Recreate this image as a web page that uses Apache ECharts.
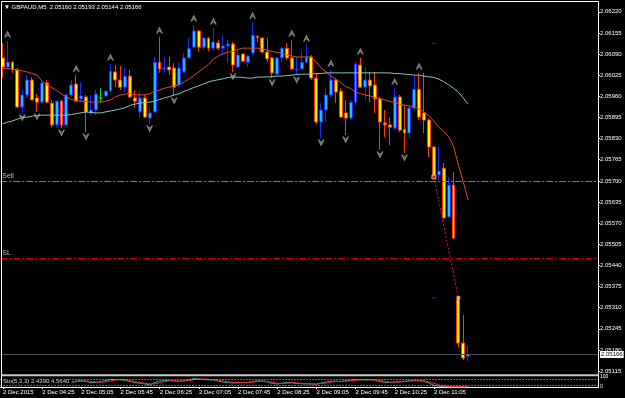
<!DOCTYPE html>
<html><head><meta charset="utf-8">
<script src="https://cdn.jsdelivr.net/npm/echarts@6/dist/echarts.min.js"></script>
<style>html,body{margin:0;padding:0;background:#000;}#c{width:625px;height:398px;}</style>
</head><body><div id="c"></div>
<script>
const symbolName = 'GBPAUD,M5';
const tickLabels = ['2 Dec 2015','2 Dec 04:25','2 Dec 05:05','2 Dec 05:45','2 Dec 06:25','2 Dec 07:05',
  '2 Dec 07:45','2 Dec 08:25','2 Dec 09:05','2 Dec 09:45','2 Dec 10:25','2 Dec 11:05'];
const priceTicks = [2.05115,2.05180,2.05245,2.05310,2.05375,2.05440,2.05505,2.05570,2.05635,2.05700,
  2.05765,2.05830,2.05895,2.05960,2.06025,2.06090,2.06155,2.06220];

const openP = [2.06078,2.06050,2.06065,2.06041,2.05927,2.05964,2.06010,2.05955,2.05942,2.06001,
2.05939,2.05872,2.05945,2.05872,2.05964,2.05998,2.05952,2.05958,2.05909,2.05918,
2.05955,2.05961,2.05976,2.06035,2.06010,2.05988,2.06022,2.05955,2.05912,2.05955,
2.05893,2.05912,2.06065,2.06044,2.06050,2.06047,2.05995,2.06035,2.06078,2.06111,
2.06161,2.06111,2.06139,2.06108,2.06124,2.06108,2.06115,2.06121,2.06050,2.06090,
2.06065,2.06093,2.06145,2.06139,2.06096,2.06078,2.06028,2.06078,2.06108,2.06078,
2.06041,2.06044,2.06065,2.06081,2.06016,2.05881,2.05918,2.05964,2.06010,2.05976,
2.05909,2.05893,2.05942,2.06056,2.05988,2.06010,2.05995,2.05952,2.05878,2.05872,
2.05862,2.05958,2.05859,2.05847,2.05924,2.05982,2.05909,2.05887,2.05804,2.05718,
2.05739,2.05589,2.05687,2.05334,2.05201,2.05160];
const highP = [2.06124,2.06130,2.06068,2.06047,2.05979,2.06025,2.06019,2.05967,2.06007,2.06010,
2.05949,2.05949,2.05949,2.05970,2.06010,2.06025,2.06004,2.05964,2.05964,2.05979,
2.05985,2.05979,2.06059,2.06056,2.06053,2.06047,2.06041,2.05979,2.05973,2.05964,
2.05927,2.06081,2.06142,2.06081,2.06081,2.06062,2.06065,2.06093,2.06139,2.06179,
2.06164,2.06142,2.06142,2.06170,2.06133,2.06148,2.06133,2.06127,2.06102,2.06093,
2.06087,2.06188,2.06148,2.06142,2.06139,2.06081,2.06081,2.06111,2.06124,2.06133,
2.06081,2.06099,2.06118,2.06087,2.06032,2.05939,2.05985,2.06041,2.06016,2.05985,
2.05949,2.05949,2.06065,2.06078,2.06050,2.06035,2.06035,2.05958,2.05918,2.05896,
2.05985,2.05964,2.05933,2.05933,2.06025,2.06032,2.06032,2.05893,2.05807,2.05804,
2.05755,2.05712,2.05727,2.05343,2.05287,2.05193];
const lowP = [2.06016,2.06047,2.06032,2.05924,2.05909,2.05955,2.05949,2.05912,2.05936,2.05939,
2.05865,2.05865,2.05862,2.05869,2.05958,2.05942,2.05942,2.05850,2.05902,2.05902,
2.05942,2.05958,2.05973,2.05988,2.05979,2.05973,2.05955,2.05924,2.05893,2.05893,
2.05875,2.05909,2.06032,2.06032,2.06025,2.05961,2.05988,2.06032,2.06078,2.06108,
2.06096,2.06102,2.06099,2.06099,2.06102,2.06087,2.06062,2.06035,2.06047,2.06065,
2.06050,2.06087,2.06127,2.06093,2.06065,2.06016,2.06025,2.06065,2.06072,2.06041,
2.06025,2.06041,2.06062,2.06010,2.05875,2.05832,2.05881,2.05958,2.05939,2.05893,
2.05841,2.05887,2.05933,2.05985,2.05949,2.05942,2.05909,2.05795,2.05835,2.05810,
2.05856,2.05850,2.05786,2.05832,2.05918,2.05887,2.05847,2.05773,2.05715,2.05703,
2.05583,2.05586,2.05521,2.05189,2.05149,2.05144];
const closeP = [2.06050,2.06065,2.06041,2.05927,2.05964,2.06010,2.05949,2.05942,2.06001,2.05942,
2.05872,2.05945,2.05872,2.05964,2.05995,2.05945,2.05961,2.05912,2.05918,2.05967,
2.05955,2.05976,2.06038,2.06010,2.05988,2.06022,2.05958,2.05945,2.05955,2.05896,
2.05909,2.06065,2.06044,2.06047,2.06041,2.05988,2.06047,2.06078,2.06108,2.06161,
2.06111,2.06139,2.06108,2.06127,2.06108,2.06115,2.06121,2.06056,2.06087,2.06068,
2.06084,2.06148,2.06141,2.06096,2.06075,2.06032,2.06078,2.06108,2.06078,2.06044,
2.06044,2.06065,2.06081,2.06016,2.05881,2.05918,2.05964,2.06010,2.05973,2.05896,
2.05893,2.05942,2.06059,2.05988,2.06010,2.05992,2.05952,2.05881,2.05872,2.05865,
2.05958,2.05856,2.05847,2.05924,2.05982,2.05896,2.05887,2.05804,2.05718,2.05730,
2.05586,2.05687,2.05524,2.05201,2.05155,2.05166];

const maFast = [2.06047,2.06045,2.06044,2.06041,2.06038,2.06035,2.06030,2.06025,2.06007,2.05995,
2.05987,2.05978,2.05967,2.05958,2.05950,2.05947,2.05945,2.05944,2.05942,2.05942,
2.05942,2.05945,2.05949,2.05958,2.05964,2.05967,2.05968,2.05965,2.05964,2.05965,
2.05968,2.05976,2.05979,2.05985,2.05988,2.05992,2.05996,2.06004,2.06013,2.06024,
2.06035,2.06047,2.06058,2.06075,2.06084,2.06091,2.06096,2.06098,2.06104,2.06108,
2.06108,2.06108,2.06108,2.06105,2.06102,2.06098,2.06095,2.06091,2.06087,2.06084,
2.06081,2.06081,2.06081,2.06081,2.06065,2.06047,2.06035,2.06022,2.06013,2.06002,
2.05990,2.05984,2.05973,2.05968,2.05964,2.05961,2.05956,2.05953,2.05949,2.05944,
2.05941,2.05936,2.05933,2.05930,2.05927,2.05921,2.05912,2.05899,2.05884,2.05865,
2.05853,2.05836,2.05807,2.05749,2.05697,2.05641];
const maSlow = [2.05875,2.05881,2.05884,2.05890,2.05895,2.05896,2.05899,2.05901,2.05902,2.05902,
2.05902,2.05902,2.05902,2.05902,2.05904,2.05907,2.05909,2.05912,2.05910,2.05909,
2.05909,2.05912,2.05915,2.05918,2.05921,2.05925,2.05932,2.05936,2.05939,2.05941,
2.05942,2.05945,2.05950,2.05955,2.05959,2.05964,2.05968,2.05975,2.05981,2.05987,
2.05992,2.05998,2.06004,2.06008,2.06011,2.06014,2.06018,2.06019,2.06019,2.06018,
2.06016,2.06016,2.06019,2.06019,2.06020,2.06020,2.06022,2.06022,2.06024,2.06025,
2.06027,2.06028,2.06028,2.06028,2.06030,2.06030,2.06032,2.06032,2.06032,2.06032,
2.06032,2.06032,2.06032,2.06032,2.06032,2.06032,2.06032,2.06032,2.06032,2.06032,
2.06030,2.06030,2.06028,2.06027,2.06025,2.06025,2.06022,2.06020,2.06018,2.06013,
2.06005,2.05996,2.05985,2.05973,2.05955,2.05936];

const stochMain = [null,null,null,null,null,null,null,null,null,null,null,null,null,null,
50,60,65,55,45,45,55,65,75,75, 72,65,55,42,38,30,22,45,60,65, 65,60,58,62,72,85,80,75,72,70,
60,50,45,40,42,45,45,55,62,60, 50,35,30,38,45,42,35,32,32,30, 28,40,50,58,58,55,62,68,75,73,
70,72,68,55,48,45,50,55,58,62, 65,62,55,40,15,8,5,6,4,3, 2,2.439];
const stochSignal = [null,null,null,null,null,null,null,null,null,null,null,null,null,null,
48,52,58,60,55,50,48,52,62,70, 74,72,64,55,45,37,30,32,42,55, 63,63,60,60,64,73,79,80,76,72,
67,60,52,45,42,42,44,48,54,59, 57,48,38,34,38,42,41,36,33,31, 30,33,39,49,55,57,58,62,68,72,
73,72,70,65,57,49,48,50,54,58, 62,63,61,52,37,21,9,6,5,4, 3,4.564];

const fractalUp = [1,15,22,32,39,43,51,59,62,67,73,80,85];
const fractalDown = [4,7,12,17,30,35,47,55,60,65,70,77,82];
const sellLevel = 2.05700;
const slLevel = 2.05463;
const tradeBars = [88, 93];
const tradePrices = [2.05712, 2.05340];
const blueMark = [88, 2.05340];
const redMark = [88, 2.06123];
const emptyBars = 26;

const n = openP.length;
const total = n + emptyBars;
const cats = [];
for (let i = 0; i < total; i++) {
  const m = 3 * 60 + 45 + 5 * i;
  cats.push(String(Math.floor(m / 60)).padStart(2, '0') + ':' + String(m % 60).padStart(2, '0'));
}
const candles = openP.map((o, i) => [o, closeP[i], lowP[i], highP[i]]);
const bid = closeP[n - 1];
const FONT = 'Liberation Sans';
const upPath = 'path://M4,0L8,9H6L4,4.5L2,9H0Z M2.5,6H5.5V7H2.5Z';
const downPath = 'path://M0,0H2L4,4.5L6,0H8L4,9Z M2.5,2H5.5V3H2.5Z';
const levelLabel = {show: true, position: 'insideStartTop', color: '#b8b8b8', fontSize: 7, fontFamily: FONT, distance: [2, 1]};

function levelSeries(value, color, text, dash) {
  return {type: 'line', xAxisIndex: 0, yAxisIndex: 0, data: [], symbol: 'none', silent: true, z: 1,
    color: color,
    markLine: {silent: true, symbol: ['none', 'none'], animation: false, precision: 5,
      lineStyle: {color: color, width: 1, type: dash, opacity: 1},
      label: text,
      data: [{yAxis: value}]}};
}

const chart = echarts.init(document.getElementById('c'), null, {renderer: 'canvas'});
chart.setOption({
  backgroundColor: '#000',
  animation: false,
  grid: [
    {left: 0.25, width: 597.75, top: 2, height: 372},
    {left: 0.25, width: 597.75, top: 377, height: 10}
  ],
  xAxis: [
    {type: 'category', gridIndex: 0, data: cats, boundaryGap: true,
     axisLine: {show: false}, axisTick: {show: false}, axisLabel: {show: false}, splitLine: {show: false}},
    {type: 'category', gridIndex: 1, data: cats, boundaryGap: true,
     axisLine: {show: true, lineStyle: {color: '#ffffff', width: 1}},
     axisTick: {show: true, alignWithLabel: true, length: 2, lineStyle: {color: '#ffffff'},
       interval: (idx) => idx % 8 === 0 && idx / 8 < tickLabels.length},
     axisLabel: {show: true, color: '#ffffff', fontSize: 6, fontFamily: FONT, align: 'left', margin: 2,
       interval: (idx) => idx % 8 === 0 && idx / 8 < tickLabels.length,
       formatter: (v, idx) => tickLabels[idx / 8] || ''},
     splitLine: {show: false}}
  ],
  yAxis: [
    {type: 'value', gridIndex: 0, position: 'right', min: 2.05106, max: 2.06250,
     axisLine: {show: true, lineStyle: {color: '#ffffff'}},
     axisTick: {show: true, length: 2, lineStyle: {color: '#ffffff'}, customValues: priceTicks},
     axisLabel: {show: true, color: '#ffffff', fontSize: 6, fontFamily: FONT, margin: 2,
       customValues: priceTicks, formatter: (v) => v.toFixed(5)},
     splitLine: {show: false}},
    {type: 'value', gridIndex: 1, position: 'right', min: 0, max: 100,
     axisLine: {show: true, lineStyle: {color: '#ffffff'}},
     axisTick: {show: false},
     axisLabel: {show: true, color: '#ffffff', fontSize: 5, fontFamily: FONT, margin: 2,
       customValues: [0, 100], formatter: (v) => String(v)},
     splitLine: {show: false}}
  ],
  graphic: [
    {type: 'line', shape: {x1: 1.5, y1: 1.5, x2: 598.5, y2: 1.5}, style: {stroke: '#ffffff', lineWidth: 1}, z: 100},
    {type: 'line', shape: {x1: 1.5, y1: 1.5, x2: 1.5, y2: 388}, style: {stroke: '#ffffff', lineWidth: 1}, z: 100},
    {type: 'line', shape: {x1: 598.5, y1: 1.5, x2: 598.5, y2: 388}, style: {stroke: '#ffffff', lineWidth: 1}, z: 100},
    {type: 'rect', shape: {x: 1.5, y: 374.3, width: 597, height: 2}, style: {fill: '#c8c8c8'}, z: 100},
    {type: 'text', left: 4, top: 4, z: 100,
     style: {text: '▼ ' + symbolName + '  ' + [openP[n-1], highP[n-1], lowP[n-1], closeP[n-1]].map(v => v.toFixed(5)).join(' '),
       fill: '#ffffff', font: '6px "' + FONT + '"'}},
    {type: 'text', left: 3, top: 378, z: 100,
     style: {text: 'Sto(5,3,3) ' + stochMain[n-1].toFixed(4) + ' ' + stochSignal[n-1].toFixed(4),
       fill: '#d8d8d8', font: '6px "' + FONT + '"', backgroundColor: '#000'}}
  ],
  series: [
    levelSeries(sellLevel, '#00D000', Object.assign({formatter: 'Sell'}, levelLabel), [7, 2, 2, 2]),
    levelSeries(slLevel, '#D00000', Object.assign({formatter: 'SL'}, levelLabel), [7, 2, 2, 2]),
    levelSeries(bid, '#4a5460', {show: true, position: 'end', formatter: bid.toFixed(5), color: '#000', backgroundColor: '#ffffff',
            fontSize: 6, fontFamily: FONT, padding: [1, 1, 0, 1], distance: 2}, 'solid'),
    {type: 'candlestick', xAxisIndex: 0, yAxisIndex: 0, data: candles, barWidth: 3.4, z: 2,
     itemStyle: {color: '#1EC0FF', color0: '#FFFF00', borderColor: '#1A2CFF', borderColor0: '#FF3A00',
       borderColorDoji: '#00E000', borderWidth: 1}},
    {type: 'line', xAxisIndex: 0, yAxisIndex: 0, data: maFast, symbol: 'none', silent: true, z: 3,
     lineStyle: {color: '#E04828', width: 1}},
    {type: 'line', xAxisIndex: 0, yAxisIndex: 0, data: maSlow, symbol: 'none', silent: true, z: 3,
     lineStyle: {color: '#88C4C4', width: 1}},
    {type: 'scatter', xAxisIndex: 0, yAxisIndex: 0, data: fractalUp.map(i => [i, highP[i]]), z: 4,
     symbol: upPath, symbolSize: [7, 7], symbolOffset: [0, -7], itemStyle: {color: '#a0a0a0'}, silent: true},
    {type: 'scatter', xAxisIndex: 0, yAxisIndex: 0, data: fractalDown.map(i => [i, lowP[i]]), z: 4,
     symbol: downPath, symbolSize: [7, 7], symbolOffset: [0, 5], itemStyle: {color: '#a0a0a0'}, silent: true},
    {type: 'line', xAxisIndex: 0, yAxisIndex: 0, data: tradeBars.map((b, k) => [b, tradePrices[k]]), z: 4,
     symbol: 'none', silent: true, lineStyle: {color: '#FF1010', width: 1, type: [2, 2]}},
    {type: 'scatter', xAxisIndex: 0, yAxisIndex: 0, silent: true, z: 5,
     data: [
       {value: [tradeBars[0], tradePrices[0]], symbol: 'rect', symbolSize: 4, itemStyle: {color: '#FF2020', borderColor: '#ffffff', borderWidth: 0.8}},
       {value: [tradeBars[1], tradePrices[1]], symbol: 'rect', symbolSize: 3, itemStyle: {color: '#FFE070', borderColor: '#ffffff', borderWidth: 0.5}},
       {value: blueMark, symbol: 'rect', symbolSize: [4, 1], itemStyle: {color: '#2030FF'}},
       {value: redMark, symbol: 'rect', symbolSize: [4, 1], itemStyle: {color: '#E00000'}}
     ]},
    {type: 'line', xAxisIndex: 1, yAxisIndex: 1, data: stochMain, symbol: 'none', silent: true,
     lineStyle: {color: '#20B2AA', width: 1},
     markLine: {silent: true, symbol: ['none', 'none'], label: {show: false},
       lineStyle: {color: '#d0d0d0', width: 1, type: [1, 2]},
       data: [{yAxis: 80}, {yAxis: 20}]}},
    {type: 'line', xAxisIndex: 1, yAxisIndex: 1, data: stochSignal, symbol: 'none', silent: true,
     lineStyle: {color: '#FF2020', width: 1}}
  ]
});
</script>
</body></html>
